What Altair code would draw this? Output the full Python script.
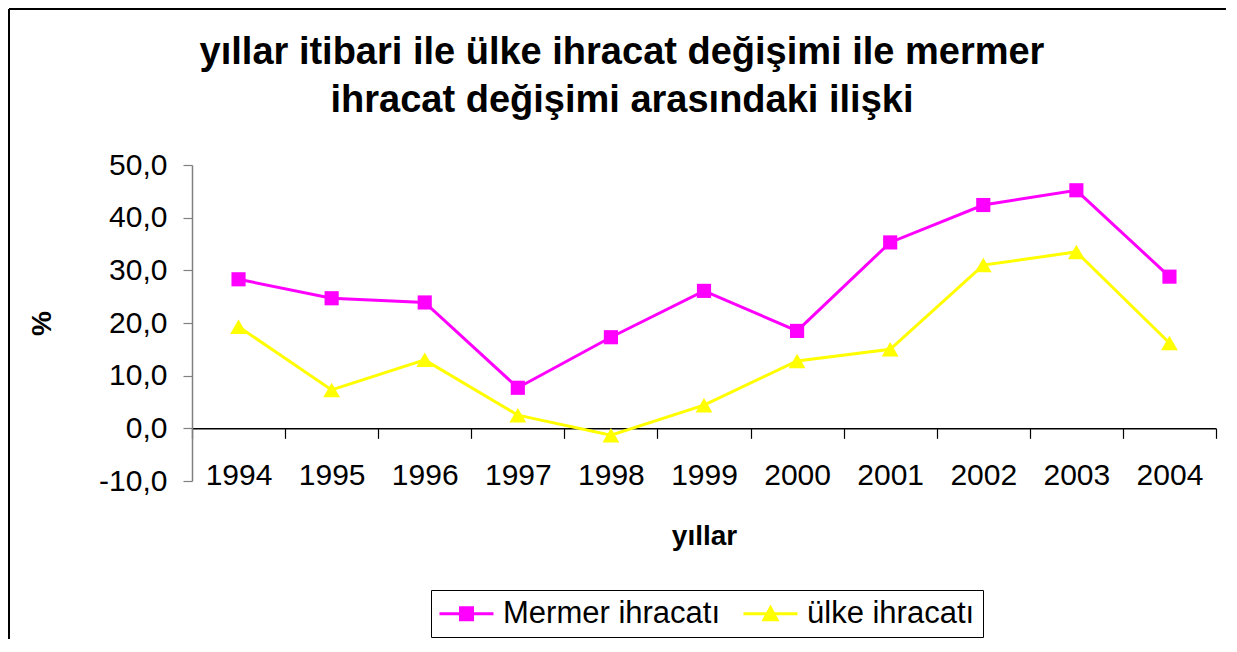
import altair as alt
import pandas as pd

years = ["1994", "1995", "1996", "1997", "1998", "1999", "2000", "2001", "2002", "2003", "2004"]
mermer = [28.3, 24.7, 23.9, 7.7, 17.3, 26.1, 18.5, 35.3, 42.4, 45.2, 28.8]
ulke = [19.3, 7.3, 13.0, 2.5, -1.3, 4.4, 12.8, 15.0, 31.0, 33.5, 16.2]
series_names = ["Mermer ihracatı", "ülke ihracatı"]
series_colors = ["#FF00FF", "#FFFF00"]
series_shapes = ["square", "triangle-up"]
series_sizes = [200, 280]
title_lines = ["yıllar itibari ile ülke ihracat değişimi ile mermer",
               "ihracat değişimi arasındaki ilişki"]

rows = []
for y, v in zip(years, mermer):
    rows.append({"year": y, "value": v, "series": series_names[0]})
for y, v in zip(years, ulke):
    rows.append({"year": y, "value": v, "series": series_names[1]})
df = pd.DataFrame(rows)

FONT = "Liberation Sans"
W, H = 1024, 316
PAD = {"left": 184, "top": 157, "right": 10, "bottom": 158}
zero_offset = -(H - H * 50 / 60)

xenc = alt.X(
    "year:O",
    sort=years,
    scale=alt.Scale(type="band", paddingInner=0, paddingOuter=0),
    axis=alt.Axis(
        offset=zero_offset, domainColor="black", domainWidth=1.5,
        tickColor="#000000", tickWidth=1.2, tickSize=10, tickBand="extent",
        labelAngle=0, labelFontSize=30, labelPadding=22, labelColor="black",
        title="yıllar", titleFontSize=28, titleFontWeight="bold",
        titlePadding=32, titleColor="black",
    ),
)
yenc = alt.Y(
    "value:Q",
    scale=alt.Scale(domain=[-10, 50], nice=False, zero=False),
    axis=alt.Axis(
        values=[-10, 0, 10, 20, 30, 40, 50], grid=False,
        domainColor="#808080", domainWidth=1.5, tickColor="#808080",
        tickWidth=1.2, tickSize=9, labelFontSize=30, labelPadding=16,
        labelColor="black",
        labelExpr="replace(replace(format(datum.value, '.1f'), '.', ','), '\u2212', '-')",
        title="%", titleFontSize=28, titleFontWeight="bold",
        titlePadding=42, titleColor="black",
    ),
)

base = alt.Chart(df)

series_layers = []
for name, col, shp, sz in zip(series_names, series_colors, series_shapes, series_sizes):
    sub = base.transform_filter(alt.datum.series == name)
    series_layers.append(sub.mark_line(strokeWidth=3, color=col).encode(x=xenc, y=yenc))
    series_layers.append(
        sub.mark_point(filled=True, opacity=1, color=col, shape=shp, size=sz).encode(x=xenc, y=yenc)
    )

# legend symbols: line segment (filled thin bar) + marker; unit = 15 px
legend_paths = [
    "M-1,-0.1H2.6V0.1H-1Z M0.3,-0.5H1.3V0.5H0.3Z",
    "M-1,-0.1H2.6V0.1H-1Z M0.8,-0.62L1.4,0.5H0.2Z",
]
leg = alt.Legend(
    title=None, orient="none", legendX=239, legendY=425, direction="horizontal",
    strokeColor="black", padding=8, labelFontSize=31, labelColor="black",
    labelLimit=600, symbolSize=900, symbolStrokeWidth=0,
    symbolStrokeColor="transparent", columnPadding=22,
    labelOffset=33, labelFont=FONT, symbolOpacity=1,
)
legend_layer = base.mark_point(filled=True, opacity=1).encode(
    x=xenc, y=yenc,
    color=alt.Color("series:N", scale=alt.Scale(domain=series_names, range=series_colors), legend=leg),
    shape=alt.Shape("series:N", scale=alt.Scale(domain=series_names, range=legend_paths), legend=leg),
).transform_filter("false")

# outer chart frame (top and left edges; the others fall outside the picture)
fdf = pd.DataFrame({"a": [0]})
frame_top = alt.Chart(fdf).mark_rule(stroke="black", strokeWidth=2).encode(
    x=alt.value(-183), x2=alt.value(W + PAD["right"]), y=alt.value(-156)
)
frame_left = alt.Chart(fdf).mark_rule(stroke="black", strokeWidth=2).encode(
    x=alt.value(-183), y=alt.value(-156), y2=alt.value(H + PAD["bottom"])
)

chart = alt.layer(frame_top, frame_left, *series_layers, legend_layer).properties(
    width=W, height=H,
    title=alt.TitleParams(
        text=title_lines, fontSize=38, fontWeight="bold", font=FONT,
        lineHeight=48, anchor="middle", frame="group", dx=-82, offset=-112,
        color="black",
    ),
    autosize=alt.AutoSizeParams(type="none"),
    padding=PAD,
).configure(
    font=FONT,
).configure_view(
    stroke=None,
).configure_axis(
    labelFont=FONT, titleFont=FONT,
)

chart.save("out.html", embed_options={"renderer": "svg", "actions": False})
